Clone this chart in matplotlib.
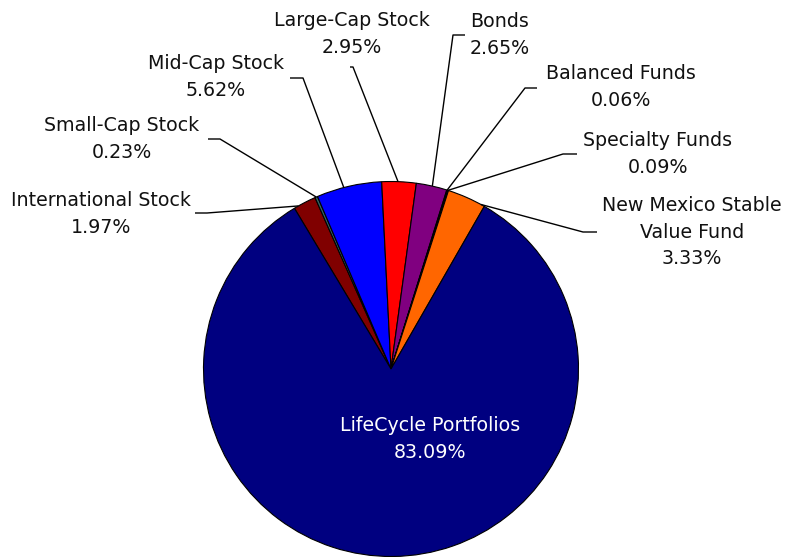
import numpy as np
import matplotlib
matplotlib.use('Agg')
import matplotlib.pyplot as plt

# data, in clockwise order starting from International Stock
funds = ['International Stock', 'Small-Cap Stock', 'Mid-Cap Stock', 'Large-Cap Stock',
         'Bonds', 'Balanced Funds', 'Specialty Funds', 'New Mexico Stable\nValue Fund',
         'LifeCycle Portfolios']
share = [1.97, 0.23, 5.62, 2.95, 2.65, 0.06, 0.09, 3.33, 83.09]
colors = ['#800000', '#336666', '#0000FF', '#FF0000', '#800080', '#339966',
          '#008000', '#FF6600', '#000080']

W, H = 788, 557
plt.rcParams['font.family'] = ['DejaVu Sans']

fig = plt.figure(figsize=(W / 100, H / 100), dpi=100)
ax = fig.add_axes([0, 0, 1, 1])


def px(x, y):
    # pixel position (from top-left) -> data coords
    return x, H - y


cx, cy = px(391, 369)
r = 187.5
start = 121.0
wedges, _ = ax.pie(share, colors=colors, startangle=start, counterclock=False,
                   center=(cx, cy), radius=r, frame=True,
                   wedgeprops=dict(edgecolor='black', linewidth=0.8))
ax.set_xlim(0, W)
ax.set_ylim(0, H)
ax.set_aspect('equal')
ax.axis('off')

# label block centre, elbow of the leader line, end of the short horizontal, where on the wedge
labels = {
    0: ((101, 214), (207, 213), (195, 213), 0.2),
    1: ((122, 139), (220, 139), (208, 139), 0.5),
    2: ((216, 77), (303, 78), (290, 78), 0.42),
    3: ((352, 34), (353, 67), (350, 67), 0.47),
    4: ((500, 35), (453, 35), (465, 35), 0.52),
    5: ((621, 87), (525, 88), (537, 88), 0.5),
    6: ((658, 154), (563, 154), (577, 154), 0.5),
    7: ((692, 232), (583, 232), (597, 232), 0.9),
}

fs = 13.7
ls = 1.52
cum = np.cumsum([0] + share)
tot = cum[-1]
for i, (tpos, elbow, hend, frac) in labels.items():
    a0 = start - 360 * cum[i] / tot
    a1 = start - 360 * cum[i + 1] / tot
    ang = np.radians(a0 + (a1 - a0) * frac)
    ex, ey = cx + r * np.cos(ang), cy + r * np.sin(ang)
    bx, by = px(*elbow)
    hx, hy = px(*hend)
    ax.plot([ex, bx, hx], [ey, by, hy], color='black', lw=1, solid_capstyle='butt')
    tx, ty = px(*tpos)
    ax.text(tx, ty, '%s\n%.2f%%' % (funds[i], share[i]), ha='center', va='center',
            fontsize=fs, linespacing=ls, color='#111111')

tx, ty = px(430, 439)
ax.text(tx, ty, '%s\n%.2f%%' % (funds[8], share[8]), ha='center', va='center',
        fontsize=fs, linespacing=ls, color='white')

fig.savefig('out.png', dpi=100)
